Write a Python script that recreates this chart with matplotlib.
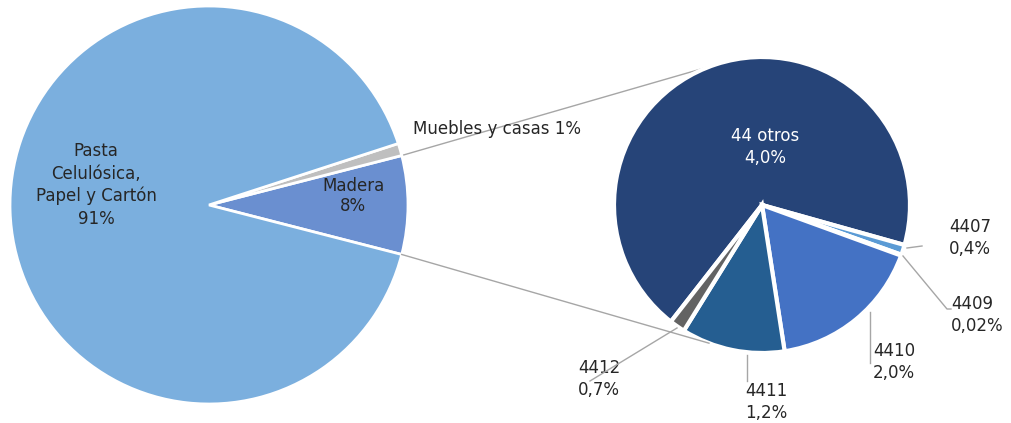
import numpy as np
import matplotlib
matplotlib.use("Agg")
import matplotlib.pyplot as plt

# main pie
main_labels = ["Madera\n8%", "Muebles y casas 1%", "Pasta\nCelulósica,\nPapel y Cartón\n91%"]
main_values = [8, 1, 91]
main_colors = ["#6A8FD0", "#BFBFBF", "#7BAFDE"]

# detail pie (share of slices as drawn in the reference)
detail_names = ["44 otros", "4407", "4409", "4410", "4411", "4412"]
detail_text = ["4,0%", "0,4%", "0,02%", "2,0%", "1,2%", "0,7%"]
detail_values = [68.8, 1.1, 0.1, 17, 11.3, 1.7]
detail_colors = ["#264478", "#5B9BD5", "#A5A5A5", "#4472C4", "#255E91", "#636363"]

W, H = 1011, 423
fig = plt.figure(figsize=(W / 100, H / 100), dpi=100)
ax = fig.add_axes([0, 0, 1, 1])
ax.axis("off")

txt = "#262626"
lc = "#A6A6A6"
fs = 12

c1, r1 = (209, 218), 199
c2, r2 = (762, 218), 148

start1 = -main_values[0] / sum(main_values) * 360 / 2
ax.pie(main_values, colors=main_colors, center=c1, radius=r1, startangle=start1,
       counterclock=True, wedgeprops=dict(edgecolor="white", linewidth=2))

ax.pie(detail_values, colors=detail_colors, center=c2, radius=r2, startangle=232,
       counterclock=False, wedgeprops=dict(edgecolor="white", linewidth=3))
ax.set_xlim(0, W)
ax.set_ylim(0, H)
ax.set_aspect("auto")

# connector lines
a_top = np.radians(-start1)
a_bot = np.radians(start1)
p1 = (c1[0] + r1 * np.cos(a_top), c1[1] + r1 * np.sin(a_top))
p2 = (c1[0] + r1 * np.cos(a_bot), c1[1] + r1 * np.sin(a_bot))
q1 = (c2[0] + r2 * np.cos(np.radians(110.5)), c2[1] + r2 * np.sin(np.radians(110.5)))
q2 = (c2[0] + r2 * np.cos(np.radians(-111)), c2[1] + r2 * np.sin(np.radians(-111)))
ax.plot([p1[0], q1[0]], [p1[1], q1[1]], color=lc, lw=1, zorder=0)
ax.plot([p2[0], q2[0]], [p2[1], q2[1]], color=lc, lw=1, zorder=3)

# main labels
ax.text(96, H - 185, main_labels[2], ha="center", va="center", fontsize=fs,
        color=txt, linespacing=1.3)
ax.text(353, H - 196, main_labels[0], ha="center", va="center", fontsize=fs,
        color=txt, linespacing=1.2)
ax.text(413, H - 129, main_labels[1], ha="left", va="center", fontsize=fs, color=txt)

# detail labels
ax.text(765, H - 147, f"{detail_names[0]}\n{detail_text[0]}", ha="center", va="center",
        fontsize=fs, color="white", linespacing=1.25)

label_pos = {1: (949, 238), 2: (951, 315), 3: (873, 362), 4: (745, 402), 5: (578, 379)}
for i, (x, y) in label_pos.items():
    ax.text(x, H - y, f"{detail_names[i]}\n{detail_text[i]}", ha="left", va="center",
            fontsize=fs, color=txt, linespacing=1.25)

leaders = [
    [(907, 248), (922, 246)],
    [(903, 256), (947, 309), (951, 309)],
    [(870, 312), (870, 363)],
    [(747, 355), (747, 381)],
    [(677, 328), (590, 381)],
]
for pts in leaders:
    xs = [p[0] for p in pts]
    ys = [H - p[1] for p in pts]
    ax.plot(xs, ys, color=lc, lw=1, zorder=4)

fig.savefig("out.png", dpi=100)
